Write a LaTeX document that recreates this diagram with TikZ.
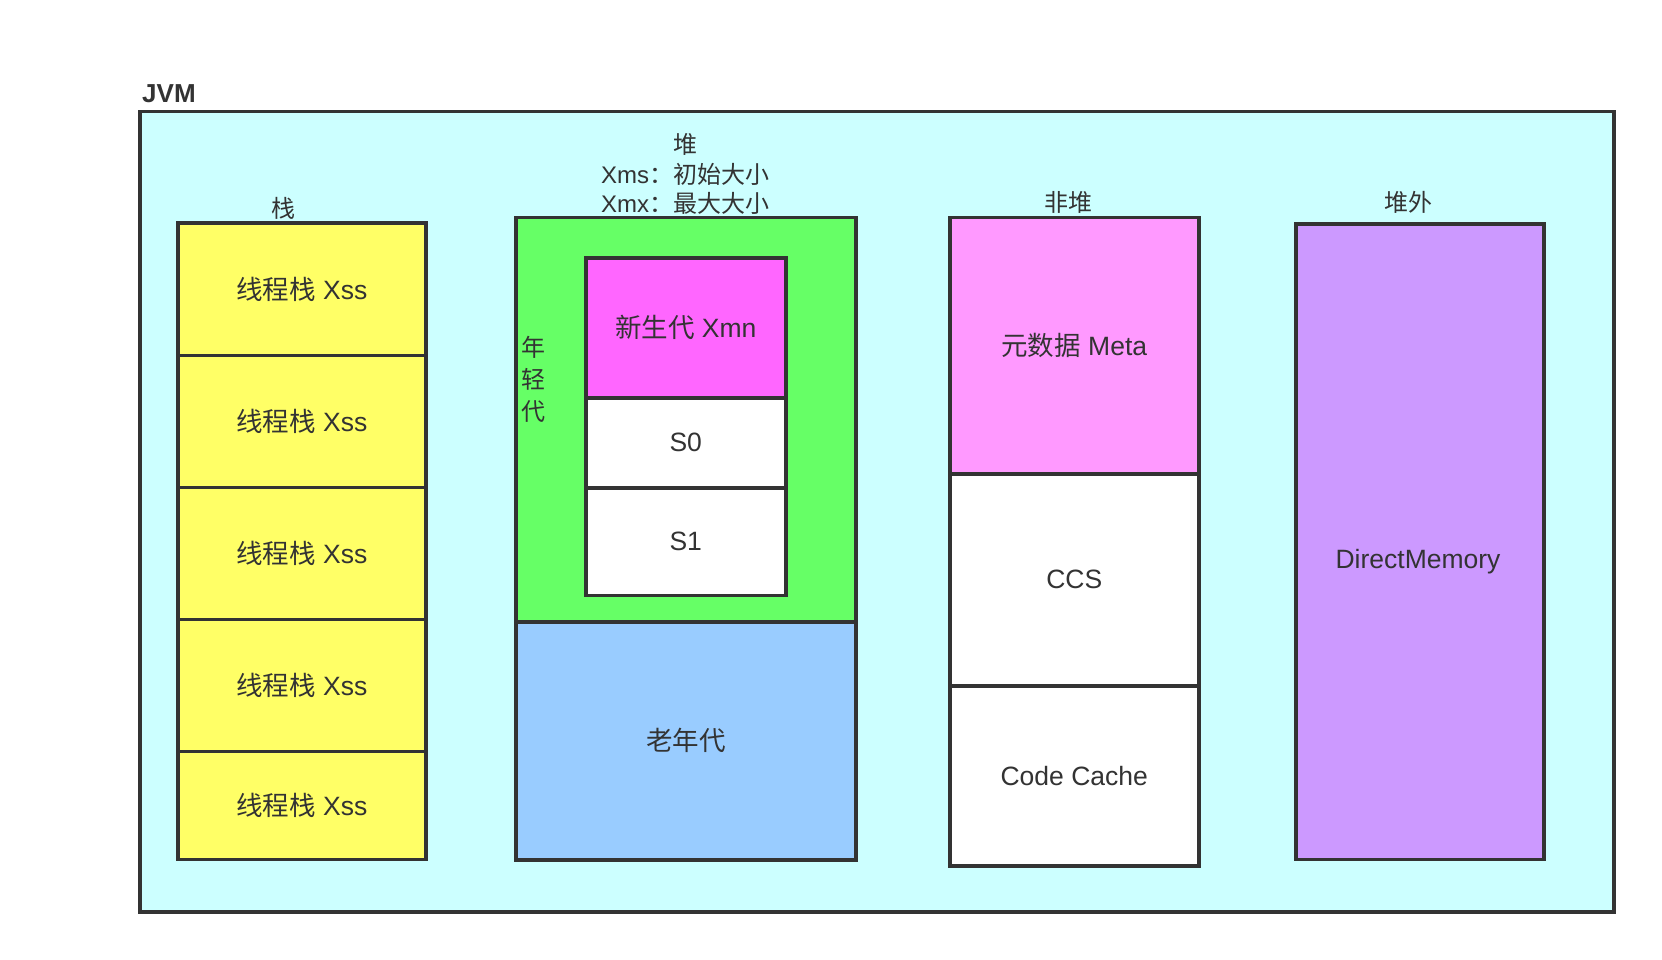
\documentclass[tikz,border=0pt]{standalone}
\usepackage{fontspec}
\setmainfont{Liberation Sans}
\newfontfamily\cjk{Noto Sans CJK SC}
\definecolor{edge}{HTML}{333333}
\definecolor{jvmfill}{HTML}{CCFFFF}
\definecolor{stackfill}{HTML}{FFFF66}
\definecolor{youngfill}{HTML}{66FF66}
\definecolor{edenfill}{HTML}{FF66FF}
\definecolor{oldfill}{HTML}{99CCFF}
\definecolor{metafill}{HTML}{FF99FF}
\definecolor{directfill}{HTML}{CC99FF}
\newcommand\txtsize{\fontsize{26.5}{32}\selectfont}
\newcommand\lblsize{\fontsize{24}{29}\selectfont}
\newcommand\lowered[1]{\raisebox{-3pt}{#1}}
\begin{document}
\begin{tikzpicture}[x=1pt,y=-1pt,
  box/.style={draw=edge, line width=3.5pt, inner sep=0pt, anchor=north west, text=edge, font=\txtsize},
  lbl/.style={text=edge, font=\lblsize, inner sep=0pt},
]
\useasboundingbox (0,0) rectangle (1662,960);
% JVM
\node[box, fill=jvmfill, minimum width=1474pt, minimum height=800pt] (jvm) at (138,110) {};
\node[anchor=base west, text=edge, inner sep=0pt, font=\bfseries\fontsize{26}{30}\selectfont] (jvmlabel) at (142,103) {JVM};
% stack
\node[box, fill=stackfill, minimum width=248pt, minimum height=132pt] (st1) at (176,221.5) {\lowered{{\cjk 线程栈} Xss}};
\node[box, fill=stackfill, minimum width=248pt, minimum height=132pt] (st2) at (176,353.5) {\lowered{{\cjk 线程栈} Xss}};
\node[box, fill=stackfill, minimum width=248pt, minimum height=132pt] (st3) at (176,485.5) {\lowered{{\cjk 线程栈} Xss}};
\node[box, fill=stackfill, minimum width=248pt, minimum height=132pt] (st4) at (176,617.5) {\lowered{{\cjk 线程栈} Xss}};
\node[box, fill=stackfill, minimum width=248pt, minimum height=108pt] (st5) at (176,749.5) {\lowered{{\cjk 线程栈} Xss}};
\node[lbl] (stacklabel) at (283,208) {\cjk 栈};
% heap
\node[box, fill=youngfill, minimum width=340pt, minimum height=404pt] (young) at (514,216) {};
\node[box, fill=oldfill, minimum width=340pt, minimum height=238pt] (old) at (514,620) {\lowered{\cjk 老年代}};
\node[box, fill=edenfill, minimum width=200pt, minimum height=140pt] (eden) at (584,256) {\lowered{{\cjk 新生代} Xmn}};
\node[box, fill=white, minimum width=200pt, minimum height=90pt] (s0) at (584,396) {\lowered{S0}};
\node[box, fill=white, minimum width=200pt, minimum height=107.5pt] (s1) at (584,486) {\lowered{S1}};
\node[lbl, align=center, font=\fontsize{24}{32}\selectfont] (younglabel) at (533,379) {\cjk 年\\\cjk 轻\\\cjk 代};
\node[lbl, align=center, font=\fontsize{24}{29.5}\selectfont] (heaplabel) at (685,174) {{\cjk 堆}\\Xms{\cjk ：初始大小}\\Xmx{\cjk ：最大大小}};
% non-heap
\node[box, fill=metafill, minimum width=249pt, minimum height=256pt] (meta) at (948,216) {\lowered{{\cjk 元数据} Meta}};
\node[box, fill=white, minimum width=249pt, minimum height=212pt] (ccs) at (948,472) {\lowered{CCS}};
\node[box, fill=white, minimum width=249pt, minimum height=180pt] (codecache) at (948,684) {\lowered{Code Cache}};
\node[lbl] (nonheaplabel) at (1068,202) {\cjk 非堆};
% off-heap
\node[box, fill=directfill, minimum width=248pt, minimum height=635.5pt] (direct) at (1294,222) {};
\node[lbl, font=\txtsize] (directlabel) at (1418,562) {DirectMemory};
\node[lbl] (offheaplabel) at (1408,202) {\cjk 堆外};
\end{tikzpicture}
\end{document}
